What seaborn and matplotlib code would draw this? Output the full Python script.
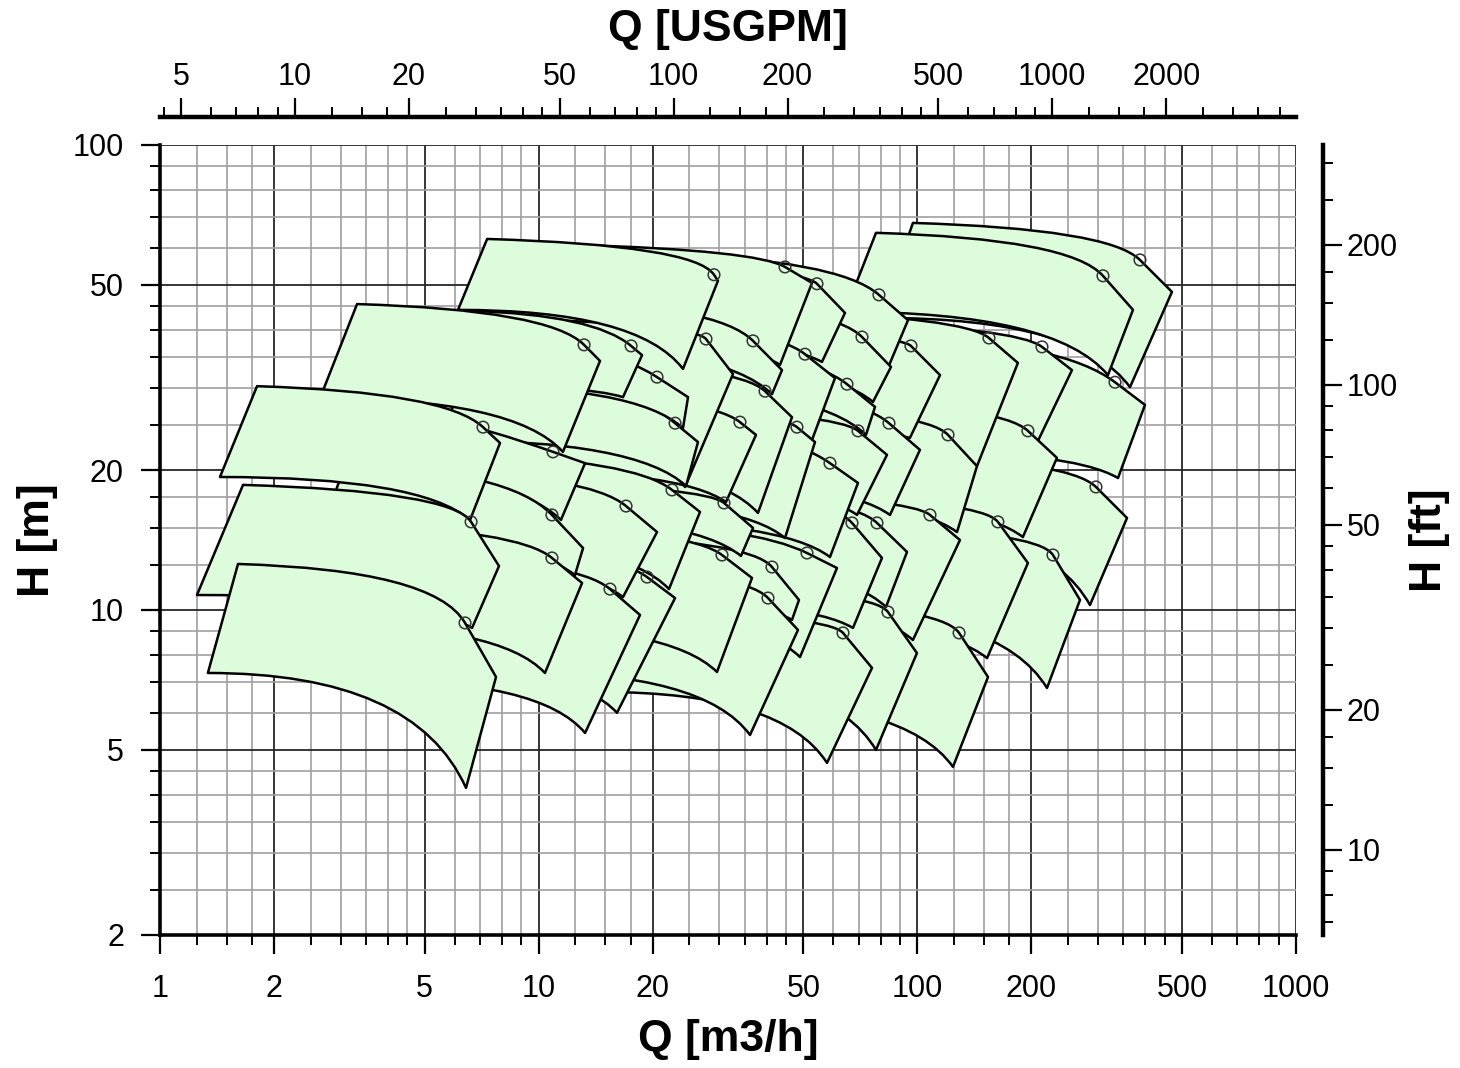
import numpy as np
import pandas as pd
import matplotlib
matplotlib.use("Agg")
import matplotlib.pyplot as plt
import seaborn as sns
from matplotlib.path import Path
from matplotlib.patches import PathPatch
from matplotlib.ticker import FixedLocator, FuncFormatter, NullFormatter

# ---------------- data ----------------
# each pump tile: top-left / top-right (max impeller), bottom-left / bottom-right (min impeller), BEP marker
tl_q = [7.31, 12.47, 15.43, 20.91, 77.77, 97.36, 3.314, 6.59, 7.0, 7.58, 10.39, 11.04, 14.52, 20.29, 27.49,
        44.18, 60.61, 18.52, 95.6, 1.804, 3.08, 6.59, 8.93, 13.66, 19.68, 24.35, 34.01, 55.33, 16.4, 84.68,
        1.657, 3.08, 4.86, 6.59, 8.93, 19.68, 22.23, 31.05, 46.1, 3.176, 4.436, 5.488, 8.661, 12.1, 14.52,
        64.41, 1.607, 11.38, 17.97, 23.62, 36.15]
tl_h = [62.8, 61.0, 56.05, 58.33, 64.73, 67.99, 45.49, 43.98, 39.0, 42.48, 46.4, 34.5, 42.0, 46.4, 40.37,
        43.77, 41.59, 37.17, 38.45, 30.29, 27.61, 34.16, 29.7, 27.61, 27.2, 30.44, 27.61, 28.3, 25.6, 21.56,
        18.58, 20.49, 20.0, 21.56, 18.85, 18.3, 18.12, 17.85, 17.68, 15.24, 13.13, 13.8, 15.24, 14.5, 15.47,
        15.24, 12.56, 12.5, 10.0, 11.32, 10.51]
tr_q = [29.75, 52.7, 64.41, 94.48, 371.1, 470.4, 14.52, 18.75, 24.8, 32.6, 43.91, 46.66, 60.61, 85.2, 114.8,
        184.3, 256.1, 77.3, 399.2, 7.906, 13.26, 26.35, 37.49, 53.67, 83.15, 101.6, 143.7, 233.7, 69.71, 357.9,
        7.857, 13.1, 20.54, 26.67, 36.82, 80.65, 93.92, 129.6, 195.9, 13.02, 18.52, 22.92, 36.59, 48.69, 61.35,
        268.9, 7.716, 48.4, 75.9, 99.76, 153.7]
tr_h = [51.05, 50.5, 43.55, 42.0, 44.2, 48.32, 34.33, 35.32, 28.69, 32.16, 32.8, 25.98, 31.53, 33.32, 32.0,
        33.99, 32.8, 27.34, 27.61, 22.86, 20.69, 22.97, 23.8, 22.97, 21.56, 22.1, 20.38, 21.24, 18.76, 15.77,
        12.43, 13.59, 14.71, 16.25, 15.01, 12.94, 13.33, 14.14, 12.62, 11.43, 9.756, 10.61, 11.72, 10.51, 12.31,
        10.51, 7.177, 9.06, 7.507, 8.079, 7.177]
br_q = [24.05, 43.38, 56.0, 83.65, 318.7, 364.4, 11.59, 16.7, 24.05, 24.35, 41.32, 37.95, 52.7, 76.36, 95.6,
        143.7, 205.7, 73.19, 338.8, 6.59, 11.45, 24.5, 31.24, 44.72, 69.29, 84.68, 127.3, 190.0, 58.79, 285.7,
        6.67, 12.47, 16.7, 22.09, 34.22, 67.62, 82.64, 97.36, 152.8, 10.39, 13.26, 16.1, 29.57, 46.66, 48.99,
        220.0, 6.429, 36.15, 57.74, 77.77, 124.2]
br_h = [33.0, 33.66, 34.16, 33.16, 32.0, 30.14, 21.88, 28.69, 24.61, 18.39, 29.12, 16.17, 23.2, 28.02, 23.45,
        20.38, 22.63, 23.8, 19.22, 15.62, 15.62, 18.48, 17.07, 14.28, 16.01, 16.01, 14.71, 14.35, 13.0, 10.25,
        9.151, 11.89, 10.66, 11.09, 13.07, 9.151, 10.15, 8.62, 7.88, 7.321, 5.439, 6.01, 7.357, 9.52, 7.92,
        6.796, 4.143, 5.385, 4.69, 5.0, 4.598]
bl_q = [6.123, 10.02, 12.47, 16.91, 64.41, 79.68, 2.646, 5.488, 5.833, 6.198, 8.927, 8.927, 12.1, 16.91, 22.23,
        35.7, 48.99, 15.43, 79.68, 1.44, 2.49, 5.488, 7.669, 11.38, 15.91, 19.68, 27.49, 44.72, 13.26, 68.45,
        1.252, 2.646, 4.05, 5.488, 7.439, 15.91, 18.52, 25.1, 37.27, 2.646, 3.479, 4.303, 7.001, 10.08, 11.73,
        52.06, 1.338, 8.927, 14.52, 19.09, 29.22]
bl_h = [44.2, 39.4, 39.0, 45.27, 43.77, 42.48, 28.55, 30.44, 30.44, 24.97, 37.17, 21.0, 28.3, 34.5, 24.97,
        25.6, 28.98, 30.44, 22.1, 19.32, 20.0, 23.2, 20.0, 17.24, 19.04, 19.04, 17.68, 17.24, 15.62, 15.62,
        10.77, 14.5, 12.81, 14.14, 16.01, 10.51, 12.81, 10.51, 9.52, 9.288, 7.07, 7.619, 9.288, 11.04, 10.0,
        10.0, 7.321, 7.357, 6.664, 7.357, 6.41]
bep_q = [29.04, 44.72, 54.32, 79.19, 309.2, 387.2, 13.18, 17.54, 20.54, 27.66, 36.82, 39.61, 50.5, 71.42, 96.18,
         154.6, 213.4, 65.2, 332.7, 7.13, 10.91, 22.92, 34.01, 48.1, 69.71, 84.16, 120.5, 195.9, 58.79, 296.3,
         6.63, 10.84, 17.01, 22.5, 30.86, 67.21, 78.24, 108.0, 163.2, 10.84, 15.43, 19.33, 30.49, 41.32, 51.12,
         228.1, 6.39, 40.33, 63.63, 83.65, 128.9]
bep_h = [52.6, 54.67, 50.3, 47.61, 52.32, 56.6, 37.17, 36.98, 31.68, 38.26, 37.91, 29.55, 35.49, 38.64, 36.98,
         38.45, 36.8, 30.59, 30.89, 24.73, 21.88, 25.22, 25.35, 24.73, 24.28, 25.22, 23.8, 24.28, 20.69, 18.39,
         15.47, 16.01, 16.73, 18.12, 16.99, 15.39, 15.39, 16.01, 15.47, 12.94, 11.09, 11.77, 13.13, 12.37, 13.26,
         13.13, 9.38, 10.61, 8.927, 9.902, 8.927]

x_major = [1, 2, 5, 10, 20, 50, 100, 200, 500, 1000]
y_major = [2, 5, 10, 20, 50, 100]
gpm_major = [5, 10, 20, 50, 100, 200, 500, 1000, 2000]
ft_major = [10, 20, 50, 100, 200]

M3H_TO_GPM = 4.402868
M_TO_FT = 3.28084

# ---------------- style ----------------
sns.set_style("ticks")
plt.rcParams["font.family"] = ["Liberation Sans", "DejaVu Sans"]
for k in ["text.color", "axes.labelcolor", "xtick.color", "ytick.color", "axes.edgecolor"]:
    plt.rcParams[k] = "black"

FILL = "#dcfcdc"
W, H = 1460, 1068
PX = 72.0 / 100.0  # points per pixel at dpi 100
fig = plt.figure(figsize=(W / 100, H / 100), dpi=100)
ax = fig.add_axes([160 / W, 1 - 935 / H, (1296 - 160) / W, (935 - 145) / H])
ax.set_xscale("log")
ax.set_yscale("log")

MINOR_MULT = (1.25, 1.5, 1.75, 2.5, 3, 3.5, 4, 4.5, 6, 7, 8, 9)


def minor_ticks(lo, hi):
    out = []
    for e in range(-1, 5):
        for m in MINOR_MULT:
            v = m * 10.0 ** e
            if lo < v < hi:
                out.append(v)
    return out


# ---------------- tiles ----------------
SX, SY = 378.67, 465.0  # display pixels per decade (for shaping curves)


def uv(q, h):
    return np.array([np.log10(q) * SX, np.log10(h) * SY])


def qh(p):
    return (10 ** (p[0] / SX), 10 ** (p[1] / SY))


def top_ctrl(p0, pb, pt):
    du, dv = pt - pb
    s = 0.03
    den = s * du + dv
    span = pb[0] - p0[0]
    if abs(den) > 1e-9:
        b = (pb[1] - p0[1] + s * (pb[0] - p0[0])) / den
        a = pb[0] - b * du - p0[0]
        if b > 0 and 0.05 * span < a < 0.97 * span:
            return np.array([p0[0] + a, p0[1] - s * a])
    return np.array([p0[0] + 0.8 * span, p0[1]])


order = sorted(range(len(tr_q)), key=lambda i: -tr_q[i])
for i in order:
    p_tl = uv(tl_q[i], tl_h[i])
    p_tr = uv(tr_q[i], tr_h[i])
    p_bl = uv(bl_q[i], bl_h[i])
    p_br = uv(br_q[i], br_h[i])
    p_bp = uv(bep_q[i], bep_h[i])
    c_top = top_ctrl(p_tl, p_bp, p_tr)
    c_bot = np.array([p_bl[0] + 0.8 * (p_br[0] - p_bl[0]), p_bl[1]])
    verts = [qh(p_tl), qh(c_top), qh(p_bp), qh(p_tr), qh(p_br), qh(c_bot), qh(p_bl), qh(p_tl)]
    codes = [Path.MOVETO, Path.CURVE3, Path.CURVE3, Path.LINETO, Path.LINETO,
             Path.CURVE3, Path.CURVE3, Path.CLOSEPOLY]
    ax.add_patch(PathPatch(Path(verts, codes), facecolor=FILL, edgecolor="black",
                           lw=1.8, joinstyle="round", zorder=2))

bep_df = pd.DataFrame({"Q": bep_q, "H": bep_h})
sns.scatterplot(data=bep_df, x="Q", y="H", ax=ax, s=70, zorder=6, legend=False)
pts = ax.collections[-1]
pts.set_facecolor("none")
pts.set_edgecolor("#333333")
pts.set_linewidth(1.1)
ax.set_xlabel("")
ax.set_ylabel("")

ax.set_xlim(1, 1000)
ax.set_ylim(2, 100)

fmt = FuncFormatter(lambda v, p: f"{v:g}")
ax.xaxis.set_major_locator(FixedLocator(x_major))
ax.xaxis.set_minor_locator(FixedLocator(minor_ticks(1, 1000)))
ax.yaxis.set_major_locator(FixedLocator(y_major))
ax.yaxis.set_minor_locator(FixedLocator(minor_ticks(2, 100)))
ax.xaxis.set_major_formatter(fmt)
ax.yaxis.set_major_formatter(fmt)
ax.xaxis.set_minor_formatter(NullFormatter())
ax.yaxis.set_minor_formatter(NullFormatter())
ax.grid(True, which="major", color="#262626", lw=1.3)
ax.grid(True, which="minor", color="#a0a0a0", lw=1.2)
ax.set_axisbelow(True)
for s in ["top", "right"]:
    ax.spines[s].set_visible(False)
for s in ["left", "bottom"]:
    ax.spines[s].set_linewidth(2.6)
    ax.spines[s].set_color("black")
ax.tick_params(which="major", length=14, width=1.6, labelsize=22, direction="out")
ax.tick_params(which="minor", length=7, width=1.4, direction="out")
ax.tick_params(axis="x", which="both", pad=14, bottom=True, top=False)
ax.tick_params(axis="y", which="both", pad=12, left=True, right=False)

# top axis: USGPM
axt = ax.twiny()
axt.set_xscale("log")
axt.set_xlim(1 * M3H_TO_GPM, 1000 * M3H_TO_GPM)
for s in ["left", "right", "bottom"]:
    axt.spines[s].set_visible(False)
axt.spines["top"].set_position(("outward", 28 * PX))
axt.spines["top"].set_linewidth(3.2)
axt.xaxis.set_major_locator(FixedLocator(gpm_major))
axt.xaxis.set_minor_locator(FixedLocator(minor_ticks(M3H_TO_GPM, 1000 * M3H_TO_GPM)))
axt.xaxis.set_major_formatter(fmt)
axt.xaxis.set_minor_formatter(NullFormatter())
axt.tick_params(axis="x", which="major", length=14, width=1.6, labelsize=22, pad=4,
                top=True, labeltop=True, bottom=False, labelbottom=False)
axt.tick_params(axis="x", which="minor", length=7, width=1.4, top=True, bottom=False)

# right axis: ft
axr = ax.twinx()
axr.set_yscale("log")
axr.set_ylim(2 * M_TO_FT, 100 * M_TO_FT)
for s in ["left", "top", "bottom"]:
    axr.spines[s].set_visible(False)
axr.spines["right"].set_position(("outward", 27 * PX))
axr.spines["right"].set_linewidth(3.2)
axr.yaxis.set_major_locator(FixedLocator(ft_major))
axr.yaxis.set_minor_locator(FixedLocator(minor_ticks(2 * M_TO_FT, 100 * M_TO_FT)))
axr.yaxis.set_major_formatter(fmt)
axr.yaxis.set_minor_formatter(NullFormatter())
axr.tick_params(axis="y", which="major", length=14, width=1.6, labelsize=22, pad=3,
                right=True, labelright=True, left=False, labelleft=False)
axr.tick_params(axis="y", which="minor", length=7, width=1.4, right=True, left=False)

# axis titles
fig.text(728 / W, 1 - 1040 / H, "Q [m3/h]", ha="center", va="center", fontsize=32, fontweight="bold")
fig.text(728 / W, 1 - 30 / H, "Q [USGPM]", ha="center", va="center", fontsize=32, fontweight="bold")
fig.text(37 / W, 1 - 540 / H, "H [m]", ha="center", va="center", rotation=90, fontsize=32, fontweight="bold")
fig.text(1430 / W, 1 - 540 / H, "H [ft]", ha="center", va="center", rotation=90, fontsize=32, fontweight="bold")

fig.savefig("out.png", dpi=100)
